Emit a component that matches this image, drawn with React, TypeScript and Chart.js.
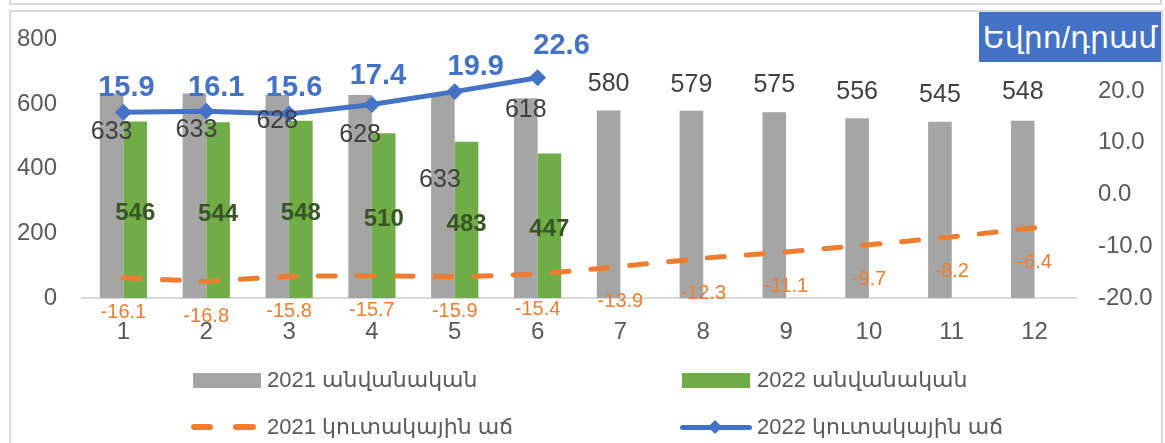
import React, { useEffect, useRef } from "react";
import { Chart, registerables } from "chart.js";

Chart.register(...registerables);

// ---------- data ----------
const months = ["1", "2", "3", "4", "5", "6", "7", "8", "9", "10", "11", "12"];
const nominal2021 = [633, 633, 628, 628, 633, 618, 580, 579, 575, 556, 545, 548];
const nominal2022 = [546, 544, 548, 510, 483, 447];
const growth2021 = [-16.1, -16.8, -15.8, -15.7, -15.9, -15.4, -13.9, -12.3, -11.1, -9.7, -8.2, -6.4];
const growth2022 = [15.9, 16.1, 15.6, 17.4, 19.9, 22.6];
const leftAxis = { min: 0, max: 800, step: 200 };
const rightAxis = { min: -20, max: 30, step: 10 };
const legendLabels = [
  "2021 անվանական",
  "2022 անվանական",
  "2021 կուտակային աճ",
  "2022 կուտակային աճ",
];
const unitLabel = "Եվրո/դրամ";

// ---------- label placement (pixel offsets, style only) ----------
const nominal2021LabelDx = [0, 2, 0, 0, -3, 0, 0, 0, 0, 0, 0, 0];
const nominal2021LabelDy = [39, 37, 26, 40, 87, 12, -26, -26, -27, -26, -27, -29];
const growth2022LabelDx = [3, 10, 5, 6, 21, 24];
const growth2022LabelDy = [-24, -23, -26, -29, -25, -32];

const FONT = "'Liberation Sans', 'DejaVu Sans', Arial, sans-serif";
const GRAY = "#A5A5A5";
const GREEN = "#70AD47";
const ORANGE = "#ED7D31";
const BLUE = "#4472C4";
const AXIS_TEXT = "#595959";

const labelPlugin = {
  id: "valueLabels",
  afterDatasetsDraw(chart: any) {
    const ctx = chart.ctx;
    ctx.save();
    ctx.textAlign = "center";
    ctx.textBaseline = "middle";

    // 2021 nominal (gray bars)
    const m0 = chart.getDatasetMeta(0);
    ctx.font = `25px ${FONT}`;
    ctx.fillStyle = "#404040";
    m0.data.forEach((el: any, i: number) => {
      ctx.fillText(String(nominal2021[i]), el.x + nominal2021LabelDx[i], el.y + nominal2021LabelDy[i]);
    });

    // 2022 nominal (green bars)
    const m1 = chart.getDatasetMeta(1);
    ctx.font = `bold 24px ${FONT}`;
    ctx.fillStyle = "#375623";
    m1.data.forEach((el: any, i: number) => {
      if (nominal2022[i] == null) return;
      ctx.fillText(String(nominal2022[i]), el.x, (el.y + el.base) / 2 + 4);
    });

    // 2021 growth (orange)
    const m2 = chart.getDatasetMeta(2);
    ctx.font = `20px ${FONT}`;
    ctx.fillStyle = ORANGE;
    m2.data.forEach((el: any, i: number) => {
      ctx.fillText(growth2021[i].toFixed(1), el.x, el.y + 35);
    });

    // 2022 growth (blue)
    const m3 = chart.getDatasetMeta(3);
    ctx.font = `bold 29px ${FONT}`;
    ctx.fillStyle = BLUE;
    m3.data.forEach((el: any, i: number) => {
      if (growth2022[i] == null) return;
      ctx.fillText(growth2022[i].toFixed(1), el.x + growth2022LabelDx[i], el.y + growth2022LabelDy[i]);
    });
    ctx.restore();
  },
};

export default function App() {
  const canvasRef = useRef<HTMLCanvasElement | null>(null);

  useEffect(() => {
    const canvas = canvasRef.current;
    if (!canvas) return;
    const chart = new Chart(canvas, {
      type: "bar",
      data: {
        labels: months,
        datasets: [
          {
            type: "bar",
            label: legendLabels[0],
            data: nominal2021,
            backgroundColor: GRAY,
            yAxisID: "y",
            order: 2,
            categoryPercentage: 0.57,
            barPercentage: 1,
          },
          {
            type: "bar",
            label: legendLabels[1],
            data: nominal2022,
            backgroundColor: GREEN,
            yAxisID: "y",
            order: 3,
            categoryPercentage: 0.57,
            barPercentage: 1,
          },
          {
            type: "line",
            label: legendLabels[2],
            data: growth2021,
            borderColor: ORANGE,
            backgroundColor: ORANGE,
            borderWidth: 5,
            borderDash: [17, 22],
            borderCapStyle: "round",
            pointRadius: 0,
            yAxisID: "y1",
            order: 1,
            tension: 0,
          },
          {
            type: "line",
            label: legendLabels[3],
            data: growth2022,
            borderColor: BLUE,
            backgroundColor: BLUE,
            borderWidth: 5,
            pointStyle: "rectRot",
            pointRadius: 8,
            pointBorderWidth: 1,
            pointBackgroundColor: BLUE,
            pointBorderColor: BLUE,
            yAxisID: "y1",
            order: 0,
            tension: 0,
          },
        ] as any,
      },
      options: {
        responsive: false,
        animation: false,
        layout: { padding: { top: 38, left: 0, right: 0, bottom: 0 } },
        plugins: {
          legend: { display: false },
          tooltip: { enabled: false },
        },
        scales: {
          x: {
            type: "category",
            offset: true,
            grid: { display: false, drawTicks: false },
            border: { display: true, color: "#D9D9D9", width: 2 },
            ticks: { color: AXIS_TEXT, font: { family: FONT, size: 24 }, padding: 20, maxRotation: 0 },
            afterFit: (s: any) => {
              s.height = 145;
            },
          },
          y: {
            position: "left",
            min: leftAxis.min,
            max: leftAxis.max,
            grid: { display: false, drawTicks: false },
            border: { display: false },
            ticks: {
              stepSize: leftAxis.step,
              color: AXIS_TEXT,
              font: { family: FONT, size: 24 },
              padding: 25,
            },
            afterFit: (s: any) => {
              s.width = 82;
            },
          },
          y1: {
            position: "right",
            min: rightAxis.min,
            max: rightAxis.max,
            grid: { display: false, drawTicks: false },
            border: { display: false },
            ticks: {
              stepSize: rightAxis.step,
              color: AXIS_TEXT,
              font: { family: FONT, size: 24 },
              padding: 22,
              callback: (v: any) => (Number(v) >= rightAxis.max ? "" : Number(v).toFixed(1)),
            },
            afterFit: (s: any) => {
              s.width = 89;
            },
          },
        },
      } as any,
      plugins: [labelPlugin],
    });
    return () => chart.destroy();
  }, []);

  const textStyle = (left: number, cy: number): React.CSSProperties => ({
    position: "absolute",
    left,
    top: cy - 15,
    height: 30,
    lineHeight: "30px",
    fontFamily: FONT,
    fontSize: 22,
    color: AXIS_TEXT,
    whiteSpace: "nowrap",
  });

  return (
    <div
      style={{
        position: "fixed",
        left: 0,
        top: 0,
        width: 1165,
        height: 443,
        background: "#fff",
        overflow: "hidden",
      }}
    >
      {/* frame of the box above */}
      <div
        style={{
          position: "absolute",
          left: 9,
          top: -12,
          width: 1149,
          height: 13,
          border: "2px solid #D9D9D9",
        }}
      />
      {/* chart frame */}
      <div
        style={{
          position: "absolute",
          left: 9,
          top: 10,
          width: 1150,
          height: 460,
          border: "2px solid #D9D9D9",
        }}
      />
      <canvas ref={canvasRef} width={1165} height={443} style={{ position: "absolute", left: 0, top: 0 }} />
      {/* unit box */}
      <div
        style={{
          position: "absolute",
          left: 979,
          top: 12,
          width: 182,
          height: 50,
          background: BLUE,
          color: "#fff",
          fontFamily: FONT,
          fontSize: 30,
          display: "flex",
          alignItems: "center",
          justifyContent: "center",
          whiteSpace: "nowrap",
        }}
      >
        {unitLabel}
      </div>
      {/* legend */}
      <div style={{ position: "absolute", left: 193, top: 373, width: 68, height: 15, background: GRAY }} />
      <div style={textStyle(267, 380)}>{legendLabels[0]}</div>
      <div style={{ position: "absolute", left: 682, top: 373, width: 68, height: 15, background: GREEN }} />
      <div style={textStyle(757, 380)}>{legendLabels[1]}</div>
      <div style={{ position: "absolute", left: 191, top: 424, width: 22, height: 6, borderRadius: 3, background: ORANGE }} />
      <div style={{ position: "absolute", left: 233, top: 424, width: 23, height: 6, borderRadius: 3, background: ORANGE }} />
      <div style={textStyle(267, 427)}>{legendLabels[2]}</div>
      <div style={{ position: "absolute", left: 680, top: 425, width: 72, height: 5, borderRadius: 2.5, background: BLUE }} />
      <div
        style={{
          position: "absolute",
          left: 710,
          top: 422,
          width: 10,
          height: 10,
          background: BLUE,
          transform: "rotate(45deg)",
        }}
      />
      <div style={textStyle(757, 427)}>{legendLabels[3]}</div>
    </div>
  );
}
